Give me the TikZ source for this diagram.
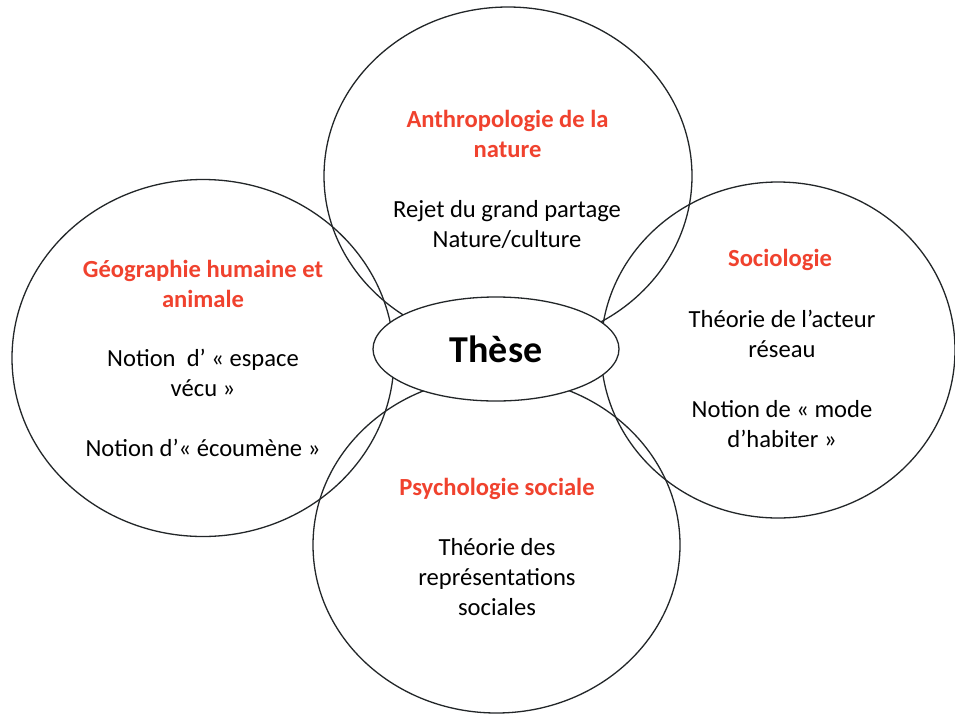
\documentclass[tikz,border=0pt]{standalone}
\usepackage{fontspec}
\setmainfont{Carlito}
\usepackage{tikz}
\usetikzlibrary{shapes.geometric}
\usetikzlibrary{positioning}
\definecolor{titlered}{RGB}{240, 66, 46}
\definecolor{rim}{RGB}{34, 38, 40}
\tikzset{field/.style = {draw = rim, ellipse, line width = 1.3pt, inner sep = 0}}
\tikzset{title/.style = {text = titlered, align = center, inner sep = 0,
                         font = \fontsize{24.6}{29.8}\selectfont\bfseries}}
\tikzset{body/.style = {text = black, align = center, inner sep = 0,
                        font = \fontsize{24.6}{29.8}\selectfont}}
\tikzset{core/.style = {field, fill = white, minimum width = 246pt, minimum height = 104pt,
                        font = \fontsize{38}{46}\selectfont\bfseries}}

\begin{document}
\begin{tikzpicture}[x = 1pt, y = -1pt]
      \useasboundingbox [fill = white] (0, 0) rectangle (955, 715);

      \node [field, minimum width = 368pt, minimum height = 338pt] (anthro) at (508, 176) {};
      \node [field, minimum width = 382pt, minimum height = 357pt] (geo) at (203, 358) {};
      \node [field, minimum width = 354pt, minimum height = 336pt] (socio) at (778, 350) {};
      \node [field, minimum width = 367pt, minimum height = 336pt] (psycho) at (496.5, 545) {};

      \node [core] (these) at (496, 349) {Thèse};

      \node [title] (anthro-t) at (507.5, 134) {Anthropologie de la\\nature};
      \node [body] (anthro-b) at (507, 224.5) {Rejet du grand partage\\Nature/culture};

      \node [title] (geo-t) at (203, 284) {Géographie humaine et\\animale};
      \node [body] (geo-b) at (203, 403) {Notion\ \ d’ « espace\\vécu »\\[29.8pt]Notion d’« écoumène »};

      \node [title] (socio-t) at (780, 260) {Sociologie};
      \node [body] (socio-b) at (782, 379) {Théorie de l’acteur\\réseau\\[29.8pt]Notion de « mode\\d’habiter »};

      \node [title] (psycho-t) at (497, 489) {Psychologie sociale};
      \node [body] (psycho-b) at (497, 577) {Théorie des\\représentations\\sociales};
    \end{tikzpicture}
\end{document}
